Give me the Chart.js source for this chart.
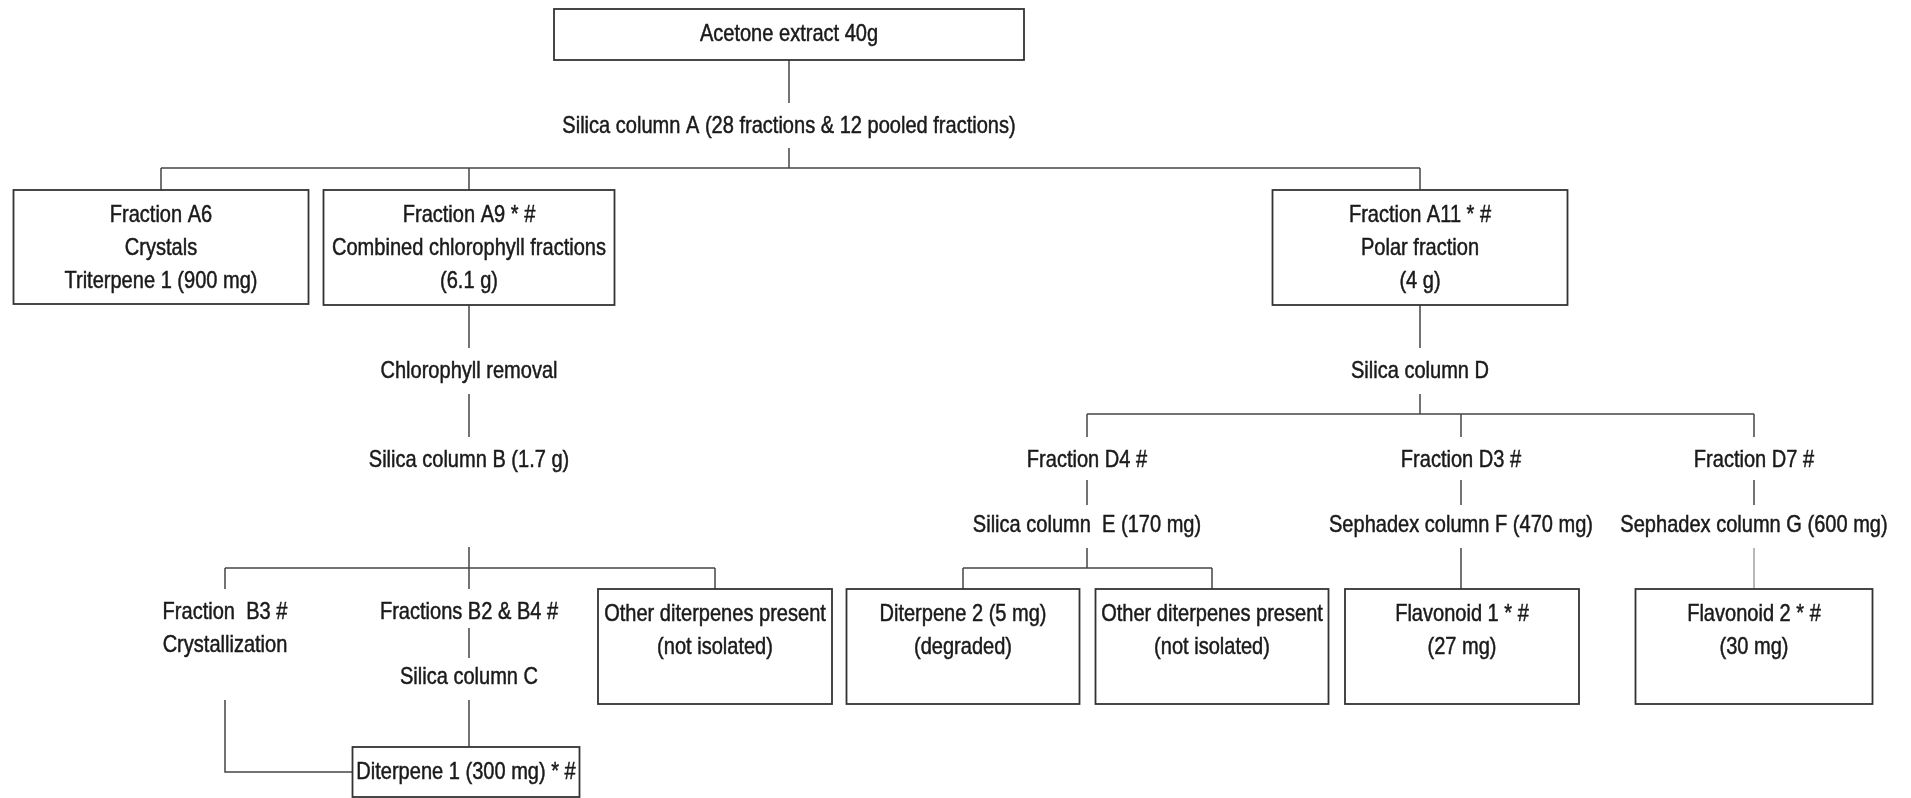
<!DOCTYPE html>
<html>
<head>
<meta charset="utf-8">
<script src="https://cdn.jsdelivr.net/npm/chart.js@4.4.1/dist/chart.umd.min.js"></script>
<style>
  html, body { margin: 0; padding: 0; background: #fff; }
  canvas { display: block; }
</style>
</head>
<body>
<canvas id="flowChart" width="1911" height="798"></canvas>
<script>
// Node names and their text lines
const nodeIds = ['top', 'silA', 'A6', 'A9', 'A11', 'chl', 'silB', 'silD', 'B3', 'B24', 'silC',
    'oth1', 'dit1', 'D4', 'D3', 'D7', 'silE', 'sepF', 'sepG', 'dit2', 'oth2', 'flav1', 'flav2'];
const nodeText = [
    ['Acetone extract 40g'],
    ['Silica column A (28 fractions & 12 pooled fractions)'],
    ['Fraction A6', 'Crystals', 'Triterpene 1 (900 mg)'],
    ['Fraction A9 * #', 'Combined chlorophyll fractions', '(6.1 g)'],
    ['Fraction A11 * #', 'Polar fraction', '(4 g)'],
    ['Chlorophyll removal'],
    ['Silica column B (1.7 g)'],
    ['Silica column D'],
    ['Fraction  B3 #', 'Crystallization'],
    ['Fractions B2 & B4 #'],
    ['Silica column C'],
    ['Other diterpenes present', '(not isolated)'],
    ['Diterpene 1 (300 mg) * #'],
    ['Fraction D4 #'],
    ['Fraction D3 #'],
    ['Fraction D7 #'],
    ['Silica column  E (170 mg)'],
    ['Sephadex column F (470 mg)'],
    ['Sephadex column G (600 mg)'],
    ['Diterpene 2 (5 mg)', '(degraded)'],
    ['Other diterpenes present', '(not isolated)'],
    ['Flavonoid 1 * #', '(27 mg)'],
    ['Flavonoid 2 * #', '(30 mg)']
];
// parent -> children links
const linkFrom = ['top', 'silA', 'A9', 'chl', 'silB', 'B24', 'silC', 'A11', 'silD', 'D4', 'silE', 'D3', 'sepF', 'D7', 'sepG'];
const linkTo = [['silA'], ['A6', 'A9', 'A11'], ['chl'], ['silB'], ['B3', 'B24', 'oth1'], ['silC'], ['dit1'],
    ['silD'], ['D4', 'D3', 'D7'], ['silE'], ['dit2', 'oth2'], ['sepF'], ['flav1'], ['sepG'], ['flav2']];

// layout (diagram units = pixels of the original figure)
const layout = {
    top:   { x: 789, y: 9, w: 470, h: 51, box: true },
    silA:  { x: 789, y: 126, below: 22 },
    A6:    { x: 161, y: 190, w: 295, h: 114, box: true },
    A9:    { x: 469, y: 190, w: 291, h: 115, box: true },
    A11:   { x: 1420, y: 190, w: 295, h: 115, box: true },
    chl:   { x: 469, y: 371 },
    silB:  { x: 469, y: 460, below: 87 },
    silD:  { x: 1420, y: 371 },
    B3:    { x: 225, y: 612, below: 55 },
    B24:   { x: 469, y: 612, below: 16 },
    silC:  { x: 469, y: 677, above: 19 },
    oth1:  { x: 715, y: 589, w: 234, h: 115, box: true },
    dit1:  { x: 466, y: 747, w: 227, h: 50, box: true },
    D4:    { x: 1087, y: 460, below: 20 },
    D3:    { x: 1461, y: 460, below: 20 },
    D7:    { x: 1754, y: 460, below: 20 },
    silE:  { x: 1087, y: 525, above: 20 },
    sepF:  { x: 1461, y: 525, above: 20 },
    sepG:  { x: 1754, y: 525, above: 20 },
    dit2:  { x: 963, y: 589, w: 233, h: 115, box: true },
    oth2:  { x: 1212, y: 589, w: 233, h: 115, box: true },
    flav1: { x: 1462, y: 589, w: 234, h: 115, box: true },
    flav2: { x: 1754, y: 589, w: 237, h: 115, box: true }
};
const busY = { silA: 168, silB: 568, silD: 414, silE: 568 };
const lineGap = 33;
const font = '24px "Liberation Sans", Arial, sans-serif';
const squeeze = 0.835;

function textOf(id) { return nodeText[nodeIds.indexOf(id)]; }

function topOf(id) {
    const n = layout[id];
    return n.box ? n.y : n.y - (n.above || 23);
}
function bottomOf(id) {
    const n = layout[id];
    if (n.box) return n.y + n.h;
    return n.y + (textOf(id).length - 1) * lineGap + (n.below || 23);
}

const flowPlugin = {
    id: 'flow',
    afterDraw(chart) {
        const ctx = chart.ctx;
        const sx = v => chart.scales.x.getPixelForValue(v);
        const sy = v => chart.scales.y.getPixelForValue(v);
        const seg = pts => {
            ctx.beginPath();
            pts.forEach((p, i) => i ? ctx.lineTo(sx(p[0]), sy(p[1])) : ctx.moveTo(sx(p[0]), sy(p[1])));
            ctx.stroke();
        };
        ctx.save();
        ctx.lineWidth = 1.5;

        // connectors
        linkFrom.forEach((from, i) => {
            const p = layout[from];
            const kids = linkTo[i];
            const y0 = bottomOf(from);
            ctx.strokeStyle = from === 'sepG' ? '#a0a0a0' : '#444';
            if (busY[from] !== undefined) {
                const by = busY[from];
                const xs = kids.map(k => layout[k].x);
                seg([[p.x, y0], [p.x, by]]);
                seg([[Math.min(...xs), by], [Math.max(...xs), by]]);
                kids.forEach(k => seg([[layout[k].x, by], [layout[k].x, topOf(k)]]));
            } else {
                seg([[p.x, y0], [p.x, topOf(kids[0])]]);
            }
        });
        // crystallization route into Diterpene 1
        ctx.strokeStyle = '#444';
        const d1 = layout.dit1;
        seg([[layout.B3.x, bottomOf('B3')], [layout.B3.x, d1.y + 25], [d1.x - d1.w / 2, d1.y + 25]]);

        // boxes and text
        ctx.font = font;
        ctx.textAlign = 'center';
        ctx.textBaseline = 'middle';
        nodeIds.forEach(id => {
            const n = layout[id];
            const lines = textOf(id);
            let y1 = n.y;
            if (n.box) {
                ctx.strokeStyle = '#333';
                ctx.lineWidth = 1.8;
                ctx.strokeRect(sx(n.x - n.w / 2), sy(n.y), sx(n.x + n.w / 2) - sx(n.x - n.w / 2), sy(n.y + n.h) - sy(n.y));
                y1 = lines.length === 1 && n.h < 60 ? n.y + n.h / 2 : n.y + 25;
            }
            ctx.fillStyle = '#1a1a1a';
            ctx.strokeStyle = '#1a1a1a';
            ctx.lineWidth = 0.5;
            lines.forEach((t, j) => {
                ctx.save();
                ctx.translate(sx(n.x), sy(y1 + j * lineGap));
                ctx.scale(squeeze, 1);
                ctx.fillText(t, 0, 0);
                ctx.strokeText(t, 0, 0);
                ctx.restore();
            });
        });
        ctx.restore();
    }
};

new Chart(document.getElementById('flowChart').getContext('2d'), {
    type: 'scatter',
    data: {
        datasets: [{
            data: nodeIds.map(id => ({ x: layout[id].x, y: layout[id].y })),
            pointRadius: 0
        }]
    },
    options: {
        responsive: false,
        animation: false,
        devicePixelRatio: 1,
        layout: { padding: 0 },
        plugins: { legend: { display: false }, tooltip: { enabled: false } },
        scales: {
            x: { type: 'linear', min: 0, max: 1911, display: false },
            y: { type: 'linear', min: 0, max: 798, reverse: true, display: false }
        }
    },
    plugins: [flowPlugin]
});
</script>
</body>
</html>
